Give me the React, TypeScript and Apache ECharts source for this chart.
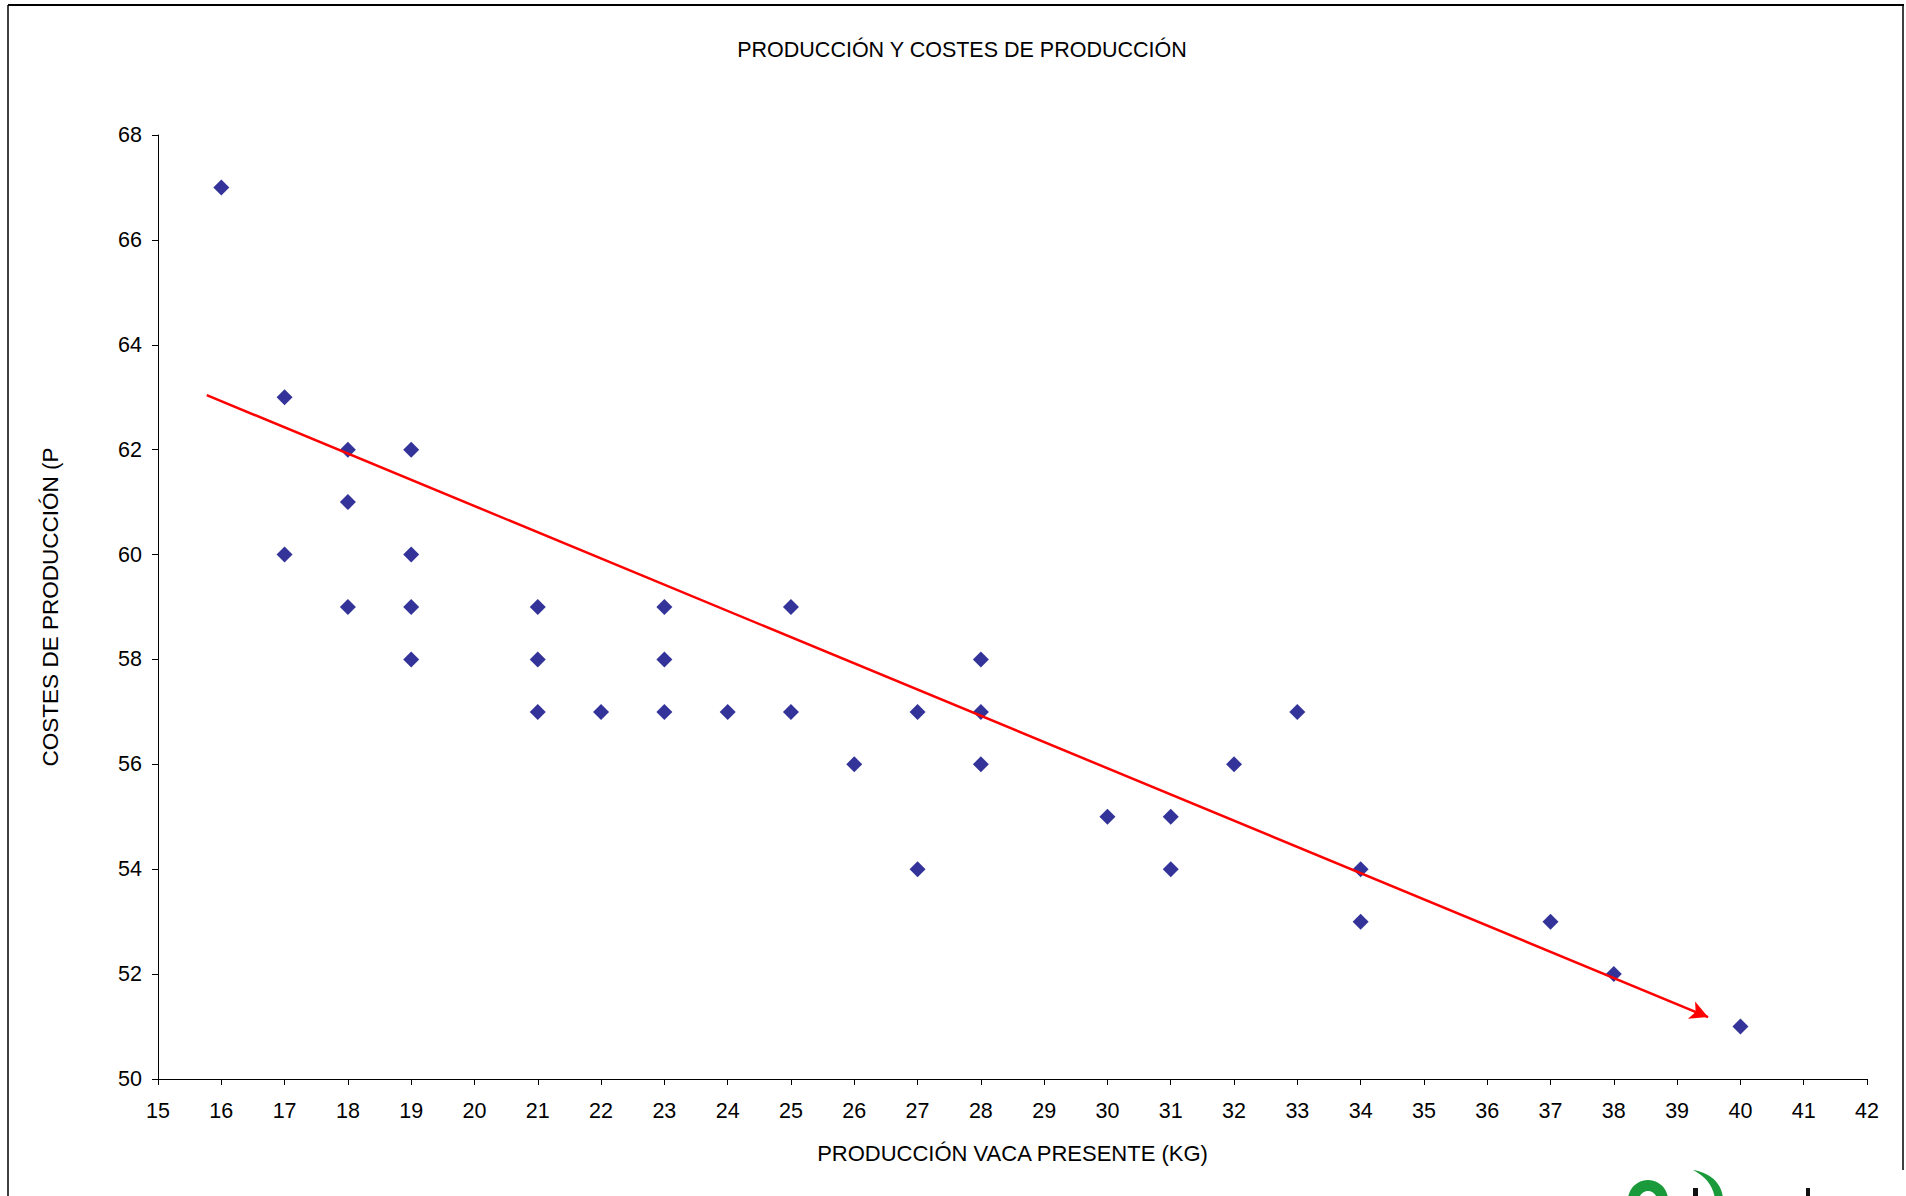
import React, { useEffect, useRef } from "react";
import * as echarts from "echarts";

const titleText = "PRODUCCIÓN Y COSTES DE PRODUCCIÓN";
const xAxisName = "PRODUCCIÓN VACA PRESENTE (KG)";
const yAxisName = "COSTES DE PRODUCCIÓN (P";

const produccion = [16, 17, 17, 18, 18, 18, 19, 19, 19, 19, 21, 21, 21, 22, 23, 23, 23, 24, 25, 25, 26, 27, 27, 28, 28, 28, 30, 31, 31, 32, 33, 34, 34, 37, 38, 40];
const costes = [67, 63, 60, 62, 61, 59, 62, 60, 59, 58, 59, 58, 57, 57, 59, 58, 57, 57, 59, 57, 56, 57, 54, 58, 57, 56, 55, 55, 54, 56, 57, 54, 53, 53, 52, 51];

const trendStart = [15.77, 63.04];
const trendEnd = [39.49, 51.18];

const xMin = 15, xMax = 42, xStep = 1;
const yMin = 50, yMax = 68, yStep = 2;

export default function App() {
  const ref = useRef<HTMLDivElement>(null);
  useEffect(() => {
    document.body.style.margin = "0";
    if (!ref.current) return;
    try {
      echarts.graphic.registerShape(
        "crescent",
        echarts.graphic.extendPath("M0,0 C18,3 30,14 30,30 L22,30 C21,16 12,6 0,0 Z", {})
      );
    } catch (e) {}
    const chart = echarts.init(ref.current, null, { renderer: "svg" });
    const font = "'Liberation Sans', Arial, sans-serif";
    chart.setOption({
      animation: false,
      backgroundColor: "#ffffff",
      title: {
        text: titleText,
        left: 957,
        textAlign: "center",
        top: 34,
        textStyle: { fontFamily: font, fontSize: 21.5, fontWeight: "normal", color: "#000" },
      },
      grid: { left: 158, right: 39, top: 135, bottom: 117, containLabel: false },
      xAxis: {
        type: "value",
        min: xMin,
        max: xMax,
        interval: xStep,
        name: xAxisName,
        nameLocation: "middle",
        nameGap: 63,
        nameTextStyle: { fontFamily: font, fontSize: 22, color: "#000" },
        axisLine: { show: true, lineStyle: { color: "#000", width: 1 } },
        axisTick: { show: true, inside: false, length: 6, lineStyle: { color: "#000" } },
        axisLabel: { fontFamily: font, fontSize: 21.5, color: "#000", margin: 21 },
        splitLine: { show: false },
      },
      yAxis: {
        type: "value",
        min: yMin,
        max: yMax,
        interval: yStep,
        name: yAxisName,
        nameLocation: "middle",
        nameGap: 96,
        nameTextStyle: { fontFamily: font, fontSize: 22.5, color: "#000" },
        axisLine: { show: true, lineStyle: { color: "#000", width: 1 } },
        axisTick: { show: true, inside: false, length: 6, lineStyle: { color: "#000" } },
        axisLabel: { fontFamily: font, fontSize: 21.5, color: "#000", margin: 16 },
        splitLine: { show: false },
      },
      series: [
        {
          type: "scatter",
          symbol: "diamond",
          symbolSize: 16,
          itemStyle: { color: "#00007f" },
          data: produccion.map((x, i) => [x, costes[i]]),
          markLine: {
            silent: true,
            symbol: ["none", "arrow"],
            symbolSize: [14, 18],
            label: { show: false },
            lineStyle: { color: "#ff0000", width: 2.5, type: "solid" },
            data: [[{ coord: trendStart }, { coord: trendEnd }]],
          },
        },
      ],
      graphic: [
        { type: "line", shape: { x1: 8, y1: 5, x2: 1904, y2: 5 }, style: { stroke: "#000", lineWidth: 2 } },
        { type: "line", shape: { x1: 8, y1: 5, x2: 8, y2: 1196 }, style: { stroke: "#000", lineWidth: 1.5 } },
        { type: "line", shape: { x1: 1903, y1: 5, x2: 1903, y2: 1170 }, style: { stroke: "#000", lineWidth: 1.5 } },
        { type: "ring", shape: { cx: 1648, cy: 1200, r: 20, r0: 9 }, style: { fill: "#1a9a3a" } },
        { type: "crescent", x: 1693, y: 1170, style: { fill: "#1a9a3a" } },
        { type: "rect", shape: { x: 1693, y: 1188, width: 5, height: 8 }, style: { fill: "#111" } },
        { type: "rect", shape: { x: 1806, y: 1188, width: 4, height: 8 }, style: { fill: "#111" } },
      ],
    });
    return () => chart.dispose();
  }, []);
  return <div ref={ref} style={{ position: "absolute", left: 0, top: 0, width: 1906, height: 1196 }} />;
}
